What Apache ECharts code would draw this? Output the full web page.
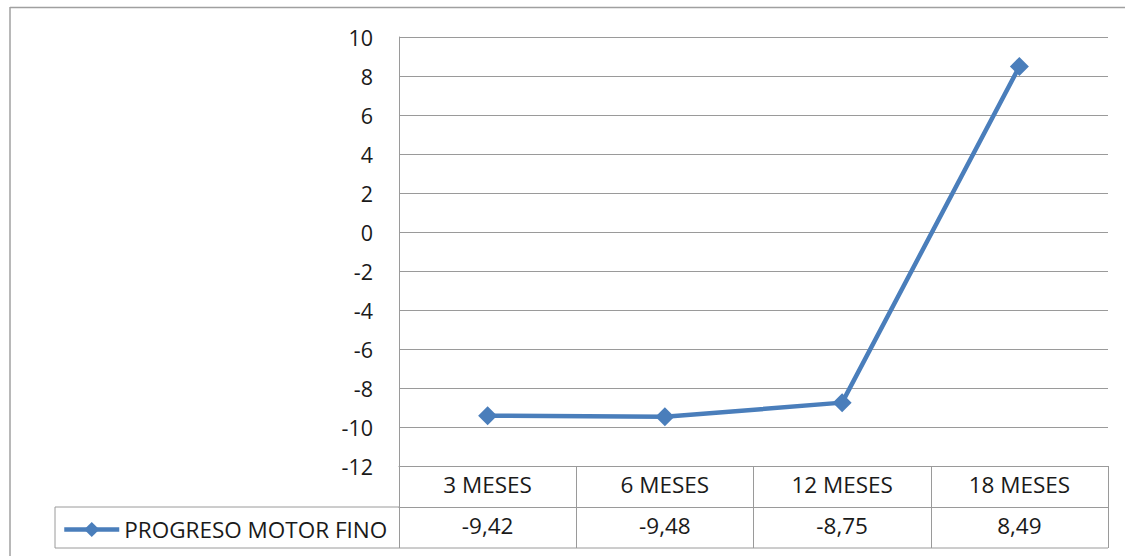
<!DOCTYPE html>
<html>
<head>
<meta charset="utf-8">
<script src="https://cdn.jsdelivr.net/npm/echarts@6/dist/echarts.min.js"></script>
<style>
  html, body { margin: 0; padding: 0; background: #fff; }
  #chart { width: 1125px; height: 556px; }
</style>
</head>
<body>
<div id="chart"></div>
<script>
// Progreso motor fino por edad
const categories = ['3 MESES', '6 MESES', '12 MESES', '18 MESES'];
const seriesName = 'PROGRESO MOTOR FINO';
const values = [-9.42, -9.48, -8.75, 8.49];
const yTicks = { min: -12, max: 10, step: 2 };

const FONT = '"Open Sans", Lato, sans-serif';
const TEXT = '#1a1a1a';
const GRID_COLOR = '#9a9a9a';
const LINE_BLUE = '#4a7ebb';

const fmt = v => v.toFixed(2).replace('.', ',');

const chart = echarts.init(document.getElementById('chart'), null, { renderer: 'svg' });

const gridBox = { left: 399, right: 17, top: 37, bottom: 90 };
const rowH = 41;

chart.setOption({
  animation: false,
  backgroundColor: '#fff',
  grid: { left: gridBox.left, right: gridBox.right, top: gridBox.top, bottom: gridBox.bottom, containLabel: false },
  legend: {
    data: [seriesName],
    left: 62,
    top: 518,
    padding: 0,
    itemWidth: 55,
    itemHeight: 19,
    itemGap: 0,
    lineStyle: { width: 4.5 },
    textStyle: { fontFamily: FONT, fontSize: 22.5, color: TEXT, padding: [0, 0, 0, 0] }
  },
  xAxis: [
    {
      type: 'category',
      data: categories,
      position: 'bottom',
      boundaryGap: true,
      axisLine: { show: true, onZero: false, lineStyle: { color: GRID_COLOR, width: 1 } },
      axisTick: { show: true, length: rowH, lineStyle: { color: GRID_COLOR, width: 1 } },
      axisLabel: { fontFamily: FONT, fontSize: 22.5, color: TEXT, margin: 7 },
      splitLine: { show: false }
    },
    {
      type: 'category',
      data: values.map(fmt),
      position: 'bottom',
      offset: rowH,
      boundaryGap: true,
      axisLine: { show: true, onZero: false, lineStyle: { color: GRID_COLOR, width: 1 } },
      axisTick: { show: true, length: rowH, lineStyle: { color: GRID_COLOR, width: 1 } },
      axisLabel: { fontFamily: FONT, fontSize: 22.5, color: TEXT, margin: 7 },
      splitLine: { show: false }
    }
  ],
  yAxis: {
    type: 'value',
    min: yTicks.min,
    max: yTicks.max,
    interval: yTicks.step,
    axisLine: { show: true, lineStyle: { color: GRID_COLOR, width: 1 } },
    axisTick: { show: false },
    axisLabel: { fontFamily: FONT, fontSize: 21.5, color: TEXT, margin: 26 },
    splitLine: { show: true, lineStyle: { color: GRID_COLOR, width: 1 } }
  },
  series: [
    {
      name: seriesName,
      type: 'line',
      xAxisIndex: 0,
      data: values,
      symbol: 'diamond',
      symbolSize: 19,
      lineStyle: { color: LINE_BLUE, width: 4.5 },
      itemStyle: { color: LINE_BLUE },
      emphasis: { disabled: true }
    }
  ],
  graphic: [
    // outer chart frame (top and left edges)
    { type: 'line', shape: { x1: 10, y1: 7.5, x2: 1125, y2: 7.5 }, style: { stroke: '#a0a0a0', lineWidth: 1.5 } },
    { type: 'line', shape: { x1: 10, y1: 7, x2: 10, y2: 556 }, style: { stroke: '#a0a0a0', lineWidth: 1.5 } },
    // legend cell of the data table
    { type: 'line', shape: { x1: 55, y1: 507, x2: 399, y2: 507 }, style: { stroke: GRID_COLOR, lineWidth: 1 } },
    { type: 'line', shape: { x1: 55, y1: 548, x2: 1108, y2: 548 }, style: { stroke: GRID_COLOR, lineWidth: 1 } },
    { type: 'line', shape: { x1: 55, y1: 507, x2: 55, y2: 548 }, style: { stroke: GRID_COLOR, lineWidth: 1 } }
  ]
});
</script>
</body>
</html>
